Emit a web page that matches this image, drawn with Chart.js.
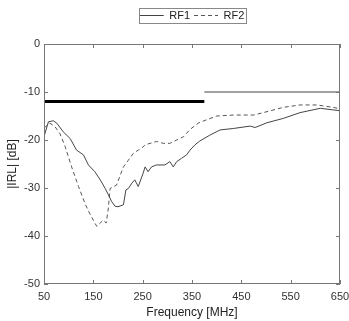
<!DOCTYPE html>
<html>
<head>
<meta charset="utf-8">
<script src="https://cdn.jsdelivr.net/npm/chart.js@4/dist/chart.umd.min.js"></script>
<style>
  html, body { margin: 0; padding: 0; background: #fff; }
  #wrap { width: 349px; height: 321px; position: relative; }
</style>
</head>
<body>
<div id="wrap"><canvas id="irlChart"></canvas></div>
<script>
// frequency (MHz) and |IRL| (dB)
const rf1Freq = [50, 52, 59, 69, 76, 89, 103, 116, 130, 140, 153, 164, 174, 180, 187, 194, 200, 211, 216, 221, 228, 234, 241, 251, 255, 261, 268, 278, 295, 305, 312, 319, 329, 339, 346, 356, 366, 386, 407, 434, 468, 478, 502, 535, 569, 610, 650];
const rf1Irl = [-18.8, -18.6, -16.2, -16.0, -16.5, -18.3, -19.7, -22.1, -23.1, -25.2, -26.6, -28.3, -30.1, -31.3, -32.8, -33.8, -33.9, -33.5, -30.4, -30.1, -29.0, -28.3, -29.7, -26.9, -25.6, -26.6, -25.6, -25.2, -25.2, -24.5, -25.6, -24.5, -23.8, -23.1, -22.1, -21.0, -20.2, -19.0, -17.9, -17.6, -17.1, -17.4, -16.4, -15.5, -14.3, -13.4, -13.9];

const rf2Freq = [50, 62, 72, 82, 93, 106, 120, 133, 140, 150, 157, 164, 170, 176, 180, 184, 197, 211, 221, 231, 241, 248, 255, 265, 278, 292, 305, 319, 333, 346, 364, 400, 434, 475, 502, 535, 569, 603, 636, 650];
const rf2Irl = [-17.5, -16.5, -17.2, -18.6, -21.4, -25.6, -29.7, -33.2, -34.8, -36.7, -38.0, -37.3, -36.7, -37.3, -34.6, -30.1, -29.4, -25.6, -24.2, -22.8, -22.1, -21.7, -21.0, -20.7, -20.3, -20.7, -20.7, -20.0, -19.3, -17.8, -16.4, -15.0, -14.8, -14.8, -14.1, -13.2, -12.7, -12.7, -13.2, -13.5];

// limit lines
const limitLowFreq = [50, 375];
const limitLowIrl = [-12, -12];
const limitHighFreq = [375, 650];
const limitHighIrl = [-10, -10];

const xTicks = [50, 150, 250, 350, 450, 550, 650];
const yTicks = [0, -10, -20, -30, -40, -50];

const toPoints = (xs, ys) => xs.map((x, i) => ({ x: x, y: ys[i] }));

const FONT = 'Liberation Sans, Arial, sans-serif';

// matlab style box + inward ticks + legend frame
const boxPlugin = {
  id: 'boxPlugin',
  beforeUpdate(chart) {
    const leg = chart.legend;
    if (leg && !leg._patched) {
      const fit = leg.fit;
      leg.fit = function () { fit.call(this); this.height += 13; };
      leg._patched = true;
    }
  },
  afterDraw(chart) {
    const { ctx, chartArea: a, scales } = chart;
    ctx.save();
    ctx.strokeStyle = '#777';
    ctx.lineWidth = 1;
    ctx.strokeRect(a.left + 0.5, a.top + 0.5, a.right - a.left - 1, a.bottom - a.top - 1);
    ctx.beginPath();
    xTicks.forEach(v => {
      const px = Math.round(scales.x.getPixelForValue(v)) + 0.5;
      ctx.moveTo(px, a.bottom); ctx.lineTo(px, a.bottom - 4);
      ctx.moveTo(px, a.top); ctx.lineTo(px, a.top + 4);
    });
    yTicks.forEach(v => {
      const py = Math.round(scales.y.getPixelForValue(v)) + 0.5;
      ctx.moveTo(a.left, py); ctx.lineTo(a.left + 4, py);
      ctx.moveTo(a.right, py); ctx.lineTo(a.right - 4, py);
    });
    ctx.stroke();

    const boxes = chart.legend.legendHitBoxes;
    if (boxes && boxes.length) {
      const l = Math.min(...boxes.map(b => b.left)) - 1;
      const r = Math.max(...boxes.map(b => b.left + b.width)) + 1;
      const t = Math.min(...boxes.map(b => b.top)) - 2;
      const bt = Math.max(...boxes.map(b => b.top + b.height)) + 2;
      ctx.strokeStyle = '#888';
      ctx.strokeRect(Math.round(l) + 0.5, Math.round(t) + 0.5, Math.round(r - l), Math.round(bt - t));
    }
    ctx.restore();
  }
};

const baseLabels = Chart.defaults.plugins.legend.labels.generateLabels;

new Chart(document.getElementById('irlChart'), {
  type: 'line',
  data: {
    datasets: [
      {
        label: 'RF1',
        data: toPoints(rf1Freq, rf1Irl),
        borderColor: '#444',
        borderWidth: 1,
        pointRadius: 0,
        tension: 0,
        pointStyle: 'line'
      },
      {
        label: 'RF2',
        data: toPoints(rf2Freq, rf2Irl),
        borderColor: '#555',
        borderWidth: 1,
        borderDash: [4, 3],
        pointRadius: 0,
        tension: 0,
        pointStyle: 'line'
      },
      {
        label: 'limitLow',
        data: toPoints(limitLowFreq, limitLowIrl),
        borderColor: '#000',
        borderWidth: 3,
        pointRadius: 0
      },
      {
        label: 'limitHigh',
        data: toPoints(limitHighFreq, limitHighIrl),
        borderColor: '#444',
        borderWidth: 1,
        pointRadius: 0
      }
    ]
  },
  options: {
    responsive: true,
    maintainAspectRatio: false,
    animation: false,
    layout: { padding: { left: 0, right: 0, top: 6, bottom: 0 } },
    plugins: {
      tooltip: { enabled: false },
      legend: {
        position: 'top',
        fullSize: false,
        labels: {
          generateLabels: chart => baseLabels(chart).map(item => {
            const ds = chart.data.datasets[item.datasetIndex];
            item.lineDash = ds.borderDash || [];
            return item;
          }),
          filter: item => item.text === 'RF1' || item.text === 'RF2',
          usePointStyle: true,
          pointStyleWidth: 24,
          boxHeight: 10,
          padding: 4,
          color: '#222',
          font: { family: FONT, size: 11 }
        }
      }
    },
    scales: {
      x: {
        type: 'linear',
        min: 50,
        max: 650,
        afterFit: s => { s.height = 37; s.paddingRight = 9; s.paddingLeft = 0; },
        ticks: { stepSize: 100, color: '#333', font: { family: FONT, size: 11 }, padding: 6, maxRotation: 0 },
        grid: { display: false, drawTicks: false },
        border: { display: false },
        title: { display: true, text: 'Frequency [MHz]', color: '#222', font: { family: FONT, size: 12 }, padding: { top: 0, bottom: 1 } }
      },
      y: {
        min: -50,
        max: 0,
        afterFit: s => { s.width = 44; },
        ticks: { stepSize: 10, color: '#333', font: { family: FONT, size: 11 }, padding: 4 },
        grid: { display: false, drawTicks: false },
        border: { display: false },
        title: { display: true, text: '|IRL| [dB]', color: '#222', font: { family: FONT, size: 12 }, padding: { top: 5, bottom: 0 } }
      }
    }
  },
  plugins: [boxPlugin]
});
</script>
</body>
</html>
